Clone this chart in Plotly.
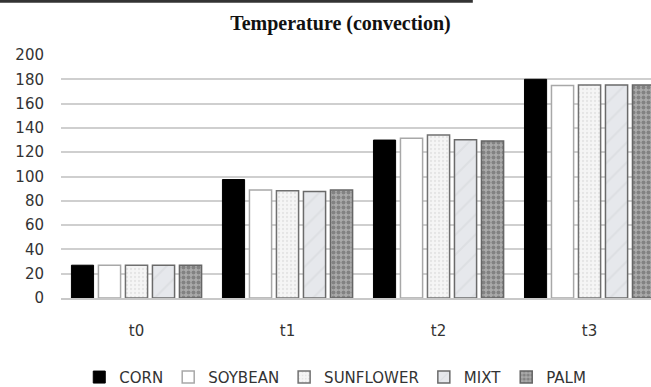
import plotly.graph_objects as go

categories = ["t0", "t1", "t2", "t3"]
corn = [27, 97.5, 130, 180]
soybean = [27, 88.8, 131.4, 175]
sunflower = [27, 88.3, 134.2, 175.4]
mixt = [27, 87.7, 130.3, 175.4]
palm = [27, 88.8, 129.2, 175.4]
y_ticks = [0, 20, 40, 60, 80, 100, 120, 140, 160, 180, 200]

series = [
    ("CORN", corn, dict(color="#000000", line=dict(color="#000000", width=1))),
    ("SOYBEAN", soybean, dict(color="#ffffff", line=dict(color="#a8a8a8", width=1.5))),
    ("SUNFLOWER", sunflower, dict(color="#f3f3f3", line=dict(color="#707070", width=1.5),
                                  pattern=dict(shape=".", fgcolor="#d4d4d4", bgcolor="#f5f5f5",
                                               size=4, solidity=0.25))),
    ("MIXT", mixt, dict(color="#e3e5e9", line=dict(color="#6a6a6a", width=1.5),
                        pattern=dict(shape="/", fgcolor="#d3d6da", bgcolor="#e6e8ec",
                                     size=14, solidity=0.15))),
    ("PALM", palm, dict(color="#9a9a9a", line=dict(color="#666666", width=1.5),
                        pattern=dict(shape=".", fgcolor="#5a5a5a", bgcolor="#aaaaaa",
                                     size=5, solidity=0.5))),
]

fig = go.Figure()
for name, vals, marker in series:
    fig.add_trace(go.Bar(x=categories, y=vals, name=name, marker=marker))

font_family = "DejaVu Sans"
fig.update_layout(
    width=651, height=387,
    margin=dict(l=61, r=0, t=55, b=89),
    paper_bgcolor="white", plot_bgcolor="white",
    barmode="group", bargap=0.106, bargroupgap=0.18,
    title=dict(text="<b>Temperature (convection)</b>", x=0.523, xref="container",
               y=0.94, yref="container", xanchor="center", yanchor="middle",
               font=dict(family="Liberation Serif", size=20, color="#111111")),
    font=dict(family=font_family, size=14, color="#333333"),
    showlegend=True,
    legend=dict(orientation="h", x=0.515, xref="container", xanchor="center",
                y=0.025, yref="container", yanchor="middle",
                font=dict(family=font_family, size=15, color="#333333"),
                itemwidth=30, tracegroupgap=0),
    shapes=[dict(type="rect", xref="paper", yref="paper", x0=-0.1034, x1=0.698,
                 y0=1.215, y1=1.24, fillcolor="#333333", line=dict(width=0), layer="above")],
)
fig.update_xaxes(range=[-0.5, 3.407], showgrid=False, showline=True, linecolor="#c8c8c8",
                 linewidth=1.5, ticks="", ticklabelstandoff=18,
                 tickfont=dict(family=font_family, size=15, color="#333333"))
fig.update_yaxes(range=[0, 200], tickvals=y_ticks, showgrid=True, gridcolor="#cfcfcf",
                 gridwidth=1.5, zeroline=False, showline=False, ticks="",
                 ticklabelstandoff=16,
                 tickfont=dict(family=font_family, size=15, color="#333333"))

fig.write_html("out.html")
